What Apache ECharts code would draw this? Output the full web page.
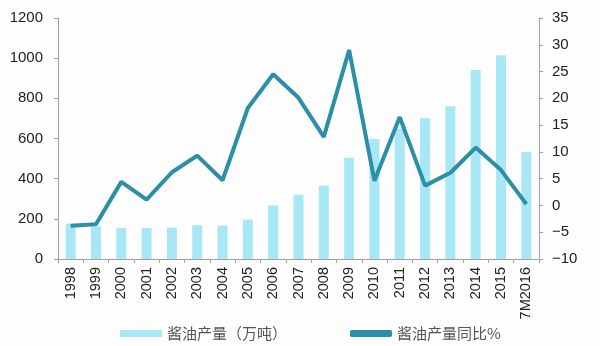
<!DOCTYPE html>
<html><head><meta charset="utf-8">
<script src="https://cdn.jsdelivr.net/npm/echarts@6/dist/echarts.min.js"></script>
<style>html,body{margin:0;padding:0;background:#fdfdfd}#c{width:600px;height:346px}</style>
</head><body><div id="c"></div>
<script>
var categories = ['1998','1999','2000','2001','2002','2003','2004','2005','2006','2007','2008','2009','2010','2011','2012','2013','2014','2015','7M2016'];
var production = [176,162,155,154,156,168,166,196,267,320,365,504,598,650,701,760,941,1015,533];
var yoy = [-3.8,-3.5,4.4,1.1,6.2,9.3,4.7,18.2,24.5,20.1,12.8,29.0,4.6,16.5,3.7,6.1,10.8,6.6,0.25];
var leftTicks = {min:0, max:1200, interval:200};
var rightTicks = {min:-10, max:35, interval:5};
var seriesNames = ['酱油产量（万吨）', '酱油产量同比%'];

var chart = echarts.init(document.getElementById('c'), null, {renderer:'canvas'});
var axisLineStyle = {show:true, lineStyle:{color:'#a0a0a0', width:1}};
var tickStyle = {show:true, length:4, lineStyle:{color:'#a0a0a0'}};
var numFont = 'Liberation Sans';
chart.setOption({
  backgroundColor:'#fdfdfd',
  animation:false,
  grid:{left:58, right:61, top:18, bottom:87},
  legend:{
    top:321, left:115, itemGap:63, itemWidth:42, itemHeight:7,
    textStyle:{color:'#555', fontSize:15, fontFamily:'Noto Sans CJK SC'},
    data:[{name:seriesNames[0], icon:'rect'},{name:seriesNames[1], icon:'roundRect', itemStyle:{color:'#2b8fa7'}}]
  },
  xAxis:{
    type:'category', data:categories,
    axisLine:axisLineStyle,
    axisTick:tickStyle,
    axisLabel:{rotate:90, color:'#222', fontSize:14.5, fontFamily:numFont, margin:8, interval:0}
  },
  yAxis:[
    {type:'value', min:leftTicks.min, max:leftTicks.max, interval:leftTicks.interval,
     axisLine:axisLineStyle, axisTick:tickStyle,
     splitLine:{show:false},
     axisLabel:{color:'#222', fontSize:15, fontFamily:numFont, margin:15,
       formatter:function(v){return String(v);}}},
    {type:'value', min:rightTicks.min, max:rightTicks.max, interval:rightTicks.interval, position:'right',
     axisLine:axisLineStyle, axisTick:tickStyle,
     splitLine:{show:false},
     axisLabel:{color:'#222', fontSize:15, fontFamily:numFont, margin:13,
       formatter:function(v){return v<0 ? '\u2212'+Math.abs(v) : String(v);}}}
  ],
  series:[
    {name:seriesNames[0], type:'bar', data:production, yAxisIndex:0, barWidth:10,
     itemStyle:{color:'#a8e7f5'}},
    {name:seriesNames[1], type:'line', data:yoy, yAxisIndex:1, symbol:'none',
     lineStyle:{color:'#2b8fa7', width:4}, itemStyle:{color:'#2b8fa7'}, z:5}
  ]
});
</script></body></html>
